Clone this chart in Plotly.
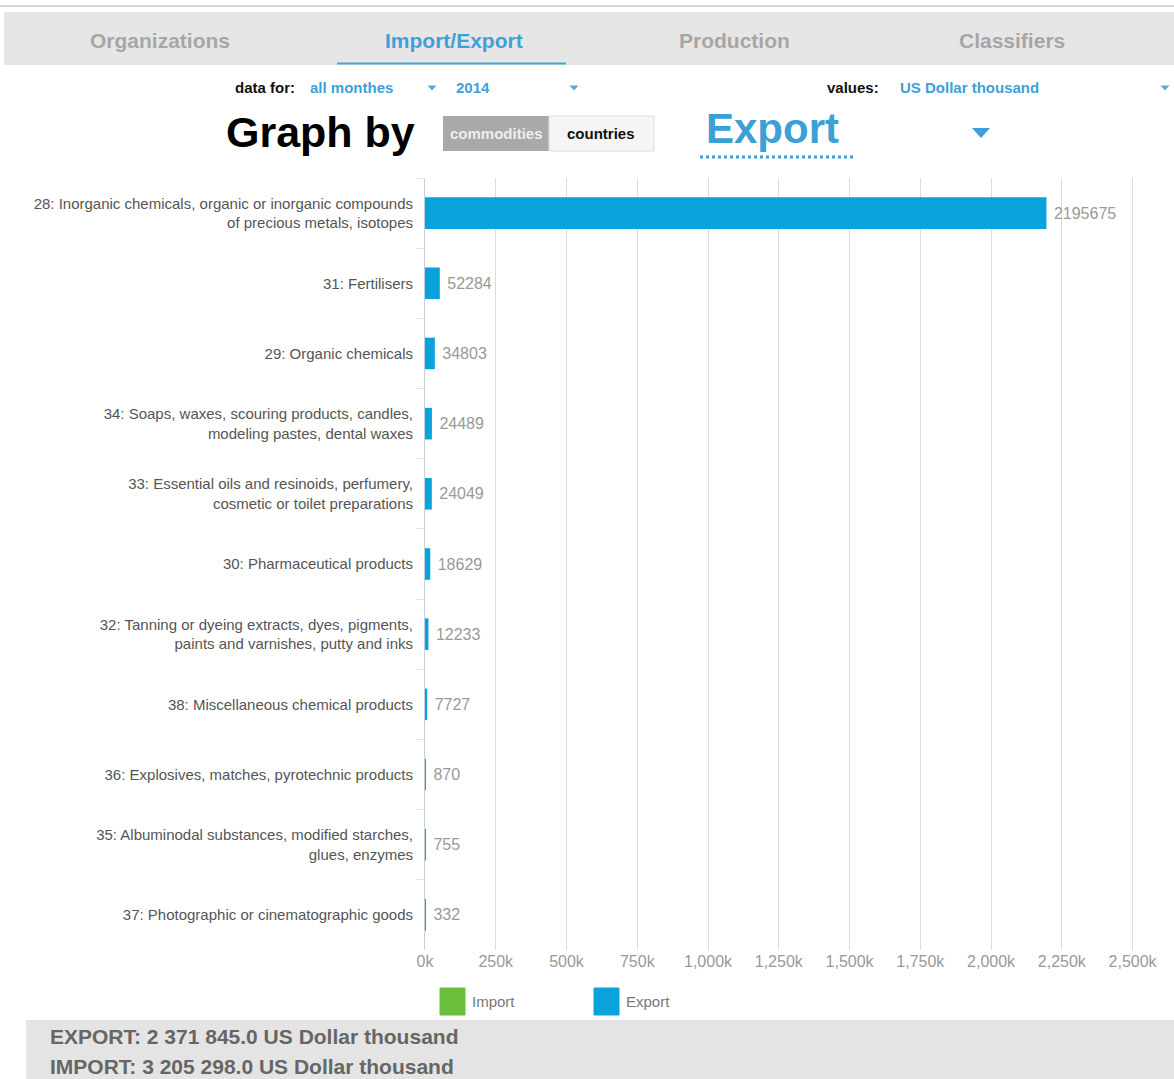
import plotly.graph_objects as go

# ---------------- data ----------------
categories = [
    "28: Inorganic chemicals, organic or inorganic compounds<br>of precious metals, isotopes",
    "31: Fertilisers",
    "29: Organic chemicals",
    "34: Soaps, waxes, scouring products, candles,<br>modeling pastes, dental waxes",
    "33: Essential oils and resinoids, perfumery,<br>cosmetic or toilet preparations",
    "30: Pharmaceutical products",
    "32: Tanning or dyeing extracts, dyes, pigments,<br>paints and varnishes, putty and inks",
    "38: Miscellaneous chemical products",
    "36: Explosives, matches, pyrotechnic products",
    "35: Albuminodal substances, modified starches,<br>glues, enzymes",
    "37: Photographic or cinematographic goods",
]
export_values = [2195675, 52284, 34803, 24489, 24049, 18629, 12233, 7727, 870, 755, 332]

tick_values = [0, 250000, 500000, 750000, 1000000, 1250000, 1500000,
               1750000, 2000000, 2250000, 2500000]
tick_labels = ["0k", "250k", "500k", "750k", "1,000k", "1,250k", "1,500k",
               "1,750k", "2,000k", "2,250k", "2,500k"]

tabs = ["Organizations", "Import/Export", "Production", "Classifiers"]
legend_names = ["Import", "Export"]
export_total = 2371845.0
import_total = 3205298.0
unit = "US Dollar thousand"

# ---------------- styling ----------------
W, H = 1174, 1079
L, R, T, B = 425, 40, 178, 129
PW, PH = W - L - R, H - T - B
BLUE = "#0aa2dc"
LINK = "#3fa0d8"
GREEN = "#6cbf3c"
SANS = "Liberation Sans, Arial, sans-serif"


def px(x):
    return (x - L) / PW


def py(y):
    return (H - B - y) / PH


fig = go.Figure()
fig.add_trace(go.Bar(
    y=categories, x=export_values, orientation="h",
    marker=dict(color=BLUE, line=dict(width=0)),
    width=0.45,
    text=[" " + str(v) for v in export_values],
    textposition="outside",
    textfont=dict(family=SANS, size=16, color="#999999"),
    cliponaxis=False,
    name=legend_names[1],
    showlegend=False,
    hoverinfo="skip",
))

shapes = []
annotations = []

# top line and tab band
shapes.append(dict(type="line", xref="paper", yref="paper",
                   x0=px(0), x1=px(W), y0=py(6), y1=py(6),
                   line=dict(color="#c4c4c4", width=1.5)))
shapes.append(dict(type="rect", xref="paper", yref="paper",
                   x0=px(4), x1=px(W), y0=py(65), y1=py(12),
                   fillcolor="#e6e6e6", line=dict(width=0), layer="below"))
shapes.append(dict(type="line", xref="paper", yref="paper",
                   x0=px(337), x1=px(566), y0=py(63.5), y1=py(63.5),
                   line=dict(color="#4aa3d8", width=2)))
tab_x = [160, 454, 734, 1012]
for name, x in zip(tabs, tab_x):
    active = name == "Import/Export"
    annotations.append(dict(xref="paper", yref="paper", x=px(x), y=py(40),
                            text=f"<b>{name}</b>", showarrow=False,
                            xanchor="center", yanchor="middle",
                            font=dict(family=SANS, size=21,
                                      color="#3fa0d8" if active else "#a6a6a6")))


def label(x, y, text, size, color, family=SANS, anchor="left"):
    annotations.append(dict(xref="paper", yref="paper", x=px(x), y=py(y),
                            text=text, showarrow=False, xanchor=anchor,
                            yanchor="middle",
                            font=dict(family=family, size=size, color=color)))


# controls row
label(297, 87, "<b>data for:</b>", 15, "#111", SANS, "right")
label(308, 87, "<b>all monthes</b>", 15, LINK, SANS)
label(454, 87, "<b>2014</b>", 15, LINK, SANS)
label(881, 87, "<b>values:</b>", 15, "#111", SANS, "right")
label(898, 87, f"<b>{unit}</b>", 15, LINK, SANS)


def tri(cx, cy, w, h, color):
    path = (f"M {px(cx - w / 2)} {py(cy - h / 2)} L {px(cx + w / 2)} {py(cy - h / 2)} "
            f"L {px(cx)} {py(cy + h / 2)} Z")
    shapes.append(dict(type="path", xref="paper", yref="paper", path=path,
                       fillcolor=color, line=dict(width=0)))


for cx in (432, 574, 1165):
    tri(cx, 88, 9, 5, "#5aa7d8")
tri(981, 133, 18, 10, "#3e9fd6")

# Graph by row
label(224, 132, "<b>Graph by</b>", 43, "#000", SANS)
shapes.append(dict(type="rect", xref="paper", yref="paper",
                   x0=px(443), x1=px(549), y0=py(151), y1=py(116),
                   fillcolor="#a9a9a9", line=dict(width=0)))
shapes.append(dict(type="rect", xref="paper", yref="paper",
                   x0=px(549), x1=px(654), y0=py(151), y1=py(116),
                   fillcolor="#f5f5f5", line=dict(color="#dddddd", width=1)))
label(496, 133, "<b>commodities</b>", 15, "#eeeeee", SANS, "center")
label(601, 133, "<b>countries</b>", 15, "#111", SANS, "center")
label(704, 128, "<b>Export</b>", 42, "#3c9fd6", SANS)
shapes.append(dict(type="line", xref="paper", yref="paper",
                   x0=px(700), x1=px(856), y0=py(157), y1=py(157),
                   line=dict(color="#3c9fd6", width=3, dash="dot")))

# legend
for (x0, color), name in zip([(440, GREEN), (594, BLUE)], legend_names):
    shapes.append(dict(type="rect", xref="paper", yref="paper",
                       x0=px(x0), x1=px(x0 + 25), y0=py(1015), y1=py(988),
                       fillcolor=color, line=dict(color=color, width=1)))
    label(x0 + 30, 1001, name, 15, "#777", SANS)

# footer
shapes.append(dict(type="rect", xref="paper", yref="paper",
                   x0=px(26), x1=px(W), y0=py(H), y1=py(1020),
                   fillcolor="#e4e4e4", line=dict(width=0), layer="below"))


def fmt(v):
    return f"{v:,.1f}".replace(",", " ")


label(48, 1036, f"<b>EXPORT: {fmt(export_total)} {unit}</b>", 21, "#666", SANS)
label(48, 1066, f"<b>IMPORT: {fmt(import_total)} {unit}</b>", 21, "#666", SANS)

fig.update_layout(
    width=W, height=H,
    margin=dict(l=L, r=R, t=T, b=B, pad=0),
    paper_bgcolor="white", plot_bgcolor="white",
    shapes=shapes, annotations=annotations,
    showlegend=False,
    xaxis=dict(range=[0, 2505000], tickvals=tick_values, ticktext=tick_labels,
               showgrid=True, gridcolor="#dcdcdc", gridwidth=1,
               zeroline=False, showline=False,
               ticks="", ticklen=0,
               tickfont=dict(family=SANS, size=16, color="#999999"),
               fixedrange=True),
    yaxis=dict(categoryorder="array", categoryarray=categories,
               autorange="reversed", showgrid=False, zeroline=False,
               showline=True, linecolor="#c2d0dc", linewidth=1,
               ticks="outside", tickson="boundaries", ticklen=8,
               tickcolor="#e2e2e2", ticklabelstandoff=8,
               tickfont=dict(family=SANS, size=15, color="#555"),
               fixedrange=True),
)

fig.write_html("out.html")
